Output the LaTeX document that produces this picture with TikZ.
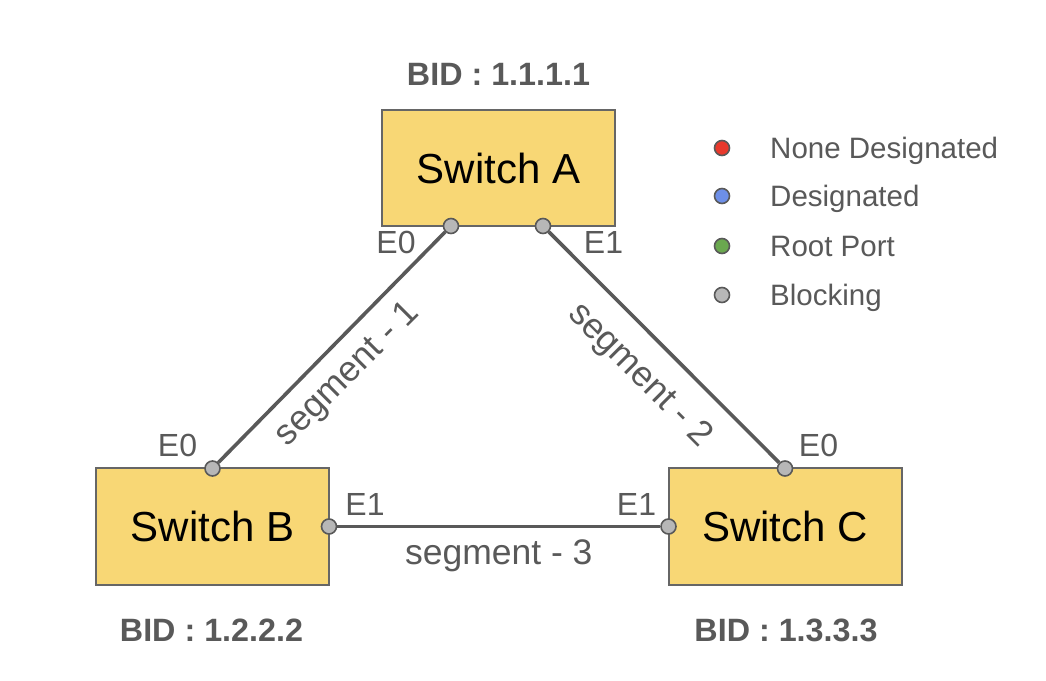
\documentclass[tikz,border=0pt]{standalone}
\usepackage{fontspec}
\setmainfont{Liberation Sans}
\usetikzlibrary{calc}

\definecolor{swfill}{HTML}{F8D775}
\definecolor{swline}{HTML}{666666}
\definecolor{txtgray}{HTML}{595959}
\definecolor{blockgray}{HTML}{B7B7B7}
\definecolor{nonered}{HTML}{E8392C}
\definecolor{desigblue}{HTML}{6D8FE8}
\definecolor{rootgreen}{HTML}{6AA84F}

\tikzset{
  switchbox/.style={draw=swline, line width=2pt, fill=swfill, outer sep=0pt,
    minimum width=233pt, minimum height=116pt, inner sep=0pt,
    font=\fontsize{42}{42}\selectfont},
  port/.style={circle, draw=txtgray, line width=1.6pt, fill=blockgray,
    minimum size=15pt, inner sep=0pt},
  link/.style={draw=txtgray, line width=3.6pt},
  elabel/.style={text=txtgray, inner sep=0pt, text height=23pt, text depth=0pt,
    font=\fontsize{32}{32}\selectfont},
  seglabel/.style={text=txtgray, inner sep=0pt, text height=24pt, text depth=0pt,
    font=\fontsize{35.5}{35.5}\selectfont},
  bidlabel/.style={text=txtgray, inner sep=0pt, text height=23pt, text depth=0pt,
    font=\bfseries\fontsize{32.3}{32.3}\selectfont},
  legdot/.style={circle, draw=txtgray, line width=1.6pt, minimum size=15pt, inner sep=0pt},
  legtext/.style={text=txtgray, anchor=west, inner sep=0pt, text height=21pt, text depth=0pt,
    font=\fontsize{29.5}{29.5}\selectfont}
}

\begin{document}
\begin{tikzpicture}[x=1pt,y=1pt]
\useasboundingbox (0,0) rectangle (1046,680);

% switches
\node[switchbox] (A) at (498.5,512) {Switch A};
\node[switchbox] (B) at (212.5,153.5) {Switch B};
\node[switchbox] (C) at (785,153.5) {Switch C};

\node[bidlabel] (Abid) at ($(A.north)+(0,36)$) {BID : 1.1.1.1};
\node[bidlabel] (Bbid) at ($(B.south)+(-1,-45)$) {BID : 1.2.2.2};
\node[bidlabel] (Cbid) at ($(C.south)+(1,-45)$) {BID : 1.3.3.3};

% ports
\node[port] (aE0) at ($(A.south)+(-47.5,0)$) {};
\node[port] (aE1) at ($(A.south)+(44.5,0)$) {};
\node[port] (bE0) at (B.north) {};
\node[port] (bE1) at (B.east) {};
\node[port] (cE0) at (C.north) {};
\node[port] (cE1) at (C.west) {};

% segments
\draw[link] (aE0) -- (bE0);
\draw[link] (aE1) -- (cE0);
\draw[link] (bE1) -- (cE1);

\node[seglabel, rotate=45] (seg1) at ($(aE0)!0.5!(bE0)+(14,-25)$) {segment - 1};
\node[seglabel, rotate=-45] (seg2) at ($(aE1)!0.5!(cE0)+(-22,-26)$) {segment - 2};
\node[seglabel] (seg3) at ($(bE1)!0.5!(cE1)+(0,-25.5)$) {segment - 3};

% port names
\node[elabel] (aE0l) at ($(aE0)+(-55,-16.5)$) {E0};
\node[elabel] (aE1l) at ($(aE1)+(60.5,-16.5)$) {E1};
\node[elabel] (bE0l) at ($(bE0)+(-35,23)$) {E0};
\node[elabel] (bE1l) at ($(bE1)+(36,22)$) {E1};
\node[elabel] (cE1l) at ($(cE1)+(-32,22)$) {E1};
\node[elabel] (cE0l) at ($(cE0)+(33.5,23)$) {E0};

% legend
\node[legdot, fill=nonered] (lgNone) at (722,532) {};
\node[legdot, fill=desigblue] (lgDesig) at (722,484) {};
\node[legdot, fill=rootgreen] (lgRoot) at (722,434) {};
\node[legdot, fill=blockgray] (lgBlock) at (722,385) {};
\node[legtext] (lgNoneT) at (770,532) {None Designated};
\node[legtext] (lgDesigT) at (770,484) {Designated};
\node[legtext] (lgRootT) at (770,434) {Root Port};
\node[legtext] (lgBlockT) at (770,385) {Blocking};
\end{tikzpicture}
\end{document}
